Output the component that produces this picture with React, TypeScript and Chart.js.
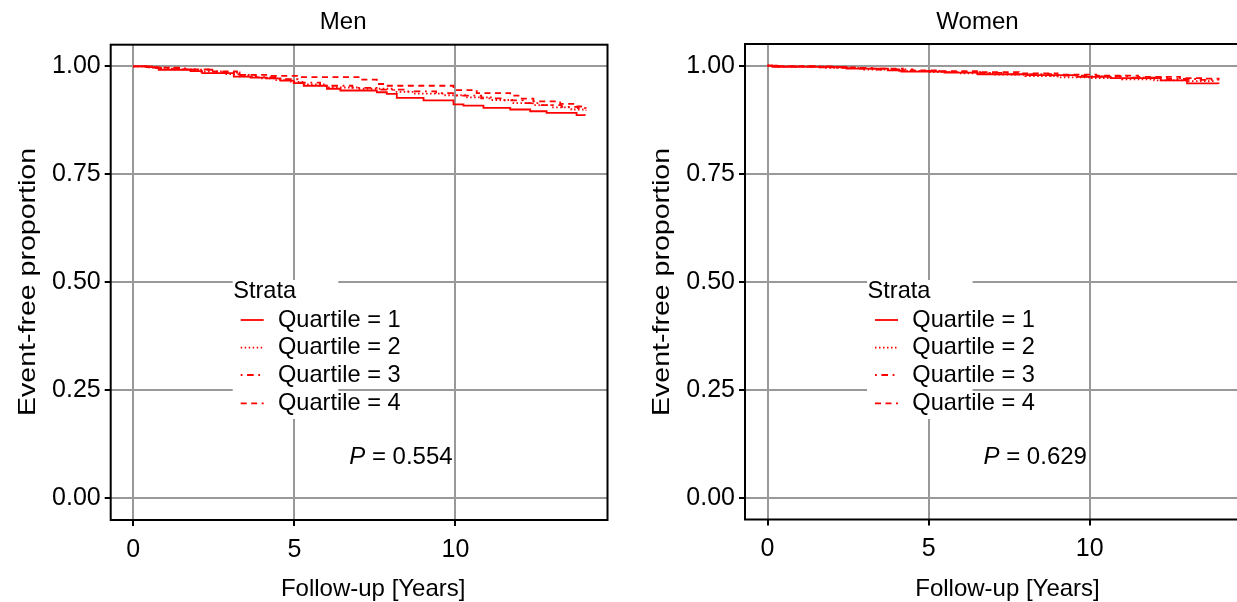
import React, { useEffect, useRef } from "react";
import { Chart, registerables } from "chart.js";
Chart.register(...registerables);

const CW = 1260;
const CH = 602;
const FONT = '"Liberation Sans", Arial, Helvetica, sans-serif';
const FS_TITLE = 24;
const FS_TICK = 25;
const FS_LEGEND = 23.6;
const Y_TITLE_LEN = 268;

const strataLabels = ["Quartile = 1", "Quartile = 2", "Quartile = 3", "Quartile = 4"];
const xTicks = [0, 5, 10];
const yTicks = [0, 0.25, 0.5, 0.75, 1];
const yTickLabels = ["0.00", "0.25", "0.50", "0.75", "1.00"];

// Men
const menQ1T = [0, 0.41, 0.79, 1.78, 2.14, 3.12, 3.64, 4.15, 4.57, 4.98, 5.29, 6.01, 6.43, 7.56, 7.87, 8.18, 9.01, 9.94, 10.25, 10.87, 11.7, 12.32, 12.83, 13.76, 14.02];
const menQ1S = [1.0, 0.998, 0.992, 0.989, 0.984, 0.976, 0.974, 0.972, 0.967, 0.961, 0.955, 0.948, 0.944, 0.94, 0.936, 0.927, 0.921, 0.912, 0.909, 0.904, 0.9, 0.896, 0.892, 0.887, 0.886];
const menQ2T = [0, 0.5, 1.2, 2.0, 2.8, 3.3, 3.9, 4.4, 4.9, 5.3, 6.0, 7.0, 8.1, 8.7, 9.6, 10.3, 11.1, 11.8, 12.4, 13.0, 13.6, 14.05];
const menQ2S = [1.0, 0.997, 0.993, 0.988, 0.982, 0.977, 0.972, 0.968, 0.964, 0.958, 0.951, 0.948, 0.941, 0.937, 0.933, 0.928, 0.922, 0.915, 0.91, 0.905, 0.9, 0.898];
const menQ3T = [0, 0.7, 1.6, 2.5, 3.3, 3.8, 4.5, 5.1, 5.8, 6.8, 7.6, 8.5, 9.4, 10.0, 10.8, 11.5, 12.1, 12.6, 13.3, 13.8, 14.05];
const menQ3S = [1.0, 0.996, 0.992, 0.986, 0.98, 0.975, 0.97, 0.962, 0.955, 0.95, 0.946, 0.942, 0.938, 0.932, 0.926, 0.921, 0.915, 0.91, 0.906, 0.903, 0.902];
const menQ4T = [0, 0.6, 1.5, 2.4, 3.22, 4.2, 5.08, 7.05, 7.56, 7.87, 9.94, 10.66, 11.7, 12.0, 12.42, 13.25, 13.76, 14.05];
const menQ4S = [1.0, 0.997, 0.993, 0.988, 0.98, 0.978, 0.975, 0.969, 0.959, 0.955, 0.945, 0.938, 0.932, 0.925, 0.919, 0.913, 0.907, 0.905];

// Women
const womenQ1T = [0, 0.15, 2.45, 3.73, 4.15, 5.49, 6.52, 8.07, 9.62, 10.65, 12.2, 13.02, 14.0];
const womenQ1S = [1.0, 0.997, 0.993, 0.989, 0.986, 0.984, 0.98, 0.978, 0.974, 0.971, 0.966, 0.959, 0.958];
const womenQ2T = [0, 0.2, 1.8, 3.0, 4.0, 5.0, 6.0, 7.0, 8.0, 9.0, 10.0, 11.0, 12.0, 13.0, 13.9];
const womenQ2S = [1.0, 0.998, 0.995, 0.991, 0.988, 0.985, 0.982, 0.979, 0.976, 0.973, 0.971, 0.968, 0.966, 0.964, 0.963];
const womenQ3T = [0, 0.3, 2.0, 3.4, 4.5, 5.5, 6.6, 7.6, 8.8, 9.9, 11.2, 12.4, 13.4, 14.0];
const womenQ3S = [1.0, 0.998, 0.995, 0.991, 0.988, 0.985, 0.983, 0.98, 0.977, 0.975, 0.972, 0.969, 0.967, 0.966];
const womenQ4T = [0, 0.25, 1.5, 2.8, 4.2, 5.3, 6.5, 7.8, 9.0, 10.2, 11.5, 12.8, 13.6, 14.0];
const womenQ4S = [1.0, 0.999, 0.996, 0.993, 0.989, 0.987, 0.985, 0.982, 0.979, 0.977, 0.974, 0.971, 0.97, 0.969];

const panelTitles = ["Men", "Women"];
const pValues = ["0.554", "0.629"];
const xTitle = "Follow-up [Years]";
const yTitle = "Event-free proportion";
const legendTitle = "Strata";

const dashes = [[], [1.5, 2.5], [1.8, 4.6, 6.6, 4.6], [6, 4.5]];
const RED = "#ff0000";
const LW = 1.8;

type Area = { left: number; right: number; top: number; bottom: number };

const panels: { area: Area; series: [number[], number[]][]; title: string; p: string }[] = [
  {
    area: { left: 110.7, right: 607.5, top: 44.7, bottom: 520 },
    series: [[menQ1T, menQ1S], [menQ2T, menQ2S], [menQ3T, menQ3S], [menQ4T, menQ4S]],
    title: panelTitles[0],
    p: pValues[0],
  },
  {
    area: { left: 745, right: 1241.8, top: 44, bottom: 519.5 },
    series: [[womenQ1T, womenQ1S], [womenQ2T, womenQ2S], [womenQ3T, womenQ3S], [womenQ4T, womenQ4S]],
    title: panelTitles[1],
    p: pValues[1],
  },
];

const YW = 60;
const XH = 60;

function makeDecor(title: string, p: string) {
  return {
    id: "decor",
    afterDraw(chart: any) {
      const ctx = chart.ctx as CanvasRenderingContext2D;
      const a = chart.chartArea;
      const L = a.left;
      ctx.save();
      // panel border
      ctx.strokeStyle = "#000";
      ctx.lineWidth = 2;
      ctx.strokeRect(a.left, a.top, a.right - a.left, a.bottom - a.top);

      ctx.fillStyle = "#000";
      ctx.font = `${FS_TITLE}px ${FONT}`;
      ctx.textBaseline = "middle";
      // title
      ctx.textAlign = "center";
      ctx.fillText(title, L + 232.5, 22);
      // x title
      ctx.fillText(xTitle, L + 262.5, 589);
      // y title (stretched along its length)
      ctx.save();
      ctx.translate(L - 82.5, 282);
      ctx.rotate(-Math.PI / 2);
      const tw = ctx.measureText(yTitle).width;
      ctx.scale(Y_TITLE_LEN / tw, 1);
      ctx.fillText(yTitle, 0, 0);
      ctx.restore();

      // legend
      ctx.fillStyle = "#fff";
      ctx.fillRect(L + 122, 280, 105.6, 139);
      ctx.fillStyle = "#000";
      ctx.textAlign = "left";
      ctx.font = `${FS_LEGEND}px ${FONT}`;
      ctx.fillText(legendTitle, L + 122.5, 291);
      const rows = [320, 347.7, 375, 403.3];
      strataLabels.forEach((lab, i) => {
        const y = rows[i];
        ctx.save();
        ctx.strokeStyle = RED;
        ctx.lineWidth = LW;
        ctx.setLineDash(dashes[i]);
        ctx.beginPath();
        ctx.moveTo(L + 130, y);
        ctx.lineTo(L + 153, y);
        ctx.stroke();
        ctx.restore();
        ctx.fillStyle = "#000";
        ctx.fillText(lab, L + 167.3, y);
      });

      // p value
      ctx.font = `italic ${FS_TITLE}px ${FONT}`;
      const px = L + 238.5;
      ctx.fillText("P", px, 457);
      const pw = ctx.measureText("P").width;
      ctx.font = `${FS_TITLE}px ${FONT}`;
      ctx.fillText(" = " + p, px + pw, 457);
      ctx.restore();
    },
  };
}

function Panel({ idx }: { idx: number }) {
  const ref = useRef<HTMLCanvasElement | null>(null);
  useEffect(() => {
    const pnl = panels[idx];
    const a = pnl.area;
    const chart = new Chart(ref.current as HTMLCanvasElement, {
      type: "line",
      data: {
        datasets: pnl.series.map(([t, s], i) => ({
          label: strataLabels[i],
          data: t.map((tv, j) => ({ x: tv, y: s[j] })),
          borderColor: RED,
          borderWidth: LW,
          borderDash: dashes[i],
          stepped: true,
          pointRadius: 0,
          fill: false,
        })),
      },
      options: {
        responsive: false,
        animation: false,
        devicePixelRatio: 1,
        layout: {
          padding: {
            left: a.left - YW,
            top: a.top,
            right: CW - a.right,
            bottom: CH - a.bottom - XH,
          },
        },
        plugins: {
          legend: { display: false },
          tooltip: { enabled: false },
          title: { display: false },
        },
        scales: {
          x: {
            type: "linear",
            min: -0.7,
            max: 14.72,
            afterFit: (s: any) => {
              s.height = XH;
            },
            afterBuildTicks: (s: any) => {
              s.ticks = xTicks.map((v) => ({ value: v }));
            },
            grid: {
              color: "#999999",
              lineWidth: 2,
              tickLength: 6,
              tickColor: "#000",
              tickWidth: 2,
            },
            border: { display: false },
            ticks: {
              font: { family: FONT, size: FS_TICK },
              color: "#000",
              padding: 9,
              maxRotation: 0,
              autoSkip: false,
              callback: (v: any) => String(v),
            },
          },
          y: {
            type: "linear",
            min: -0.05,
            max: 1.05,
            afterFit: (s: any) => {
              s.width = YW;
            },
            afterBuildTicks: (s: any) => {
              s.ticks = yTicks.map((v) => ({ value: v }));
            },
            grid: {
              color: "#999999",
              lineWidth: 2,
              tickLength: 6,
              tickColor: "#000",
              tickWidth: 2,
            },
            border: { display: false },
            ticks: {
              font: { family: FONT, size: FS_TICK },
              color: "#000",
              padding: 4,
              autoSkip: false,
              callback: (v: any) => {
                const k = yTicks.indexOf(v);
                return k >= 0 ? yTickLabels[k] : "";
              },
            },
          },
        },
      },
      plugins: [makeDecor(pnl.title, pnl.p)],
    } as any);
    return () => chart.destroy();
  }, [idx]);
  return (
    <canvas
      ref={ref}
      width={CW}
      height={CH}
      style={{ position: "absolute", left: 0, top: 0, width: CW, height: CH }}
    />
  );
}

export default function App() {
  return (
    <div
      style={{
        position: "fixed",
        left: 0,
        top: 0,
        width: 1237,
        height: 602,
        overflow: "hidden",
        background: "#fff",
      }}
    >
      <Panel idx={0} />
      <Panel idx={1} />
    </div>
  );
}
